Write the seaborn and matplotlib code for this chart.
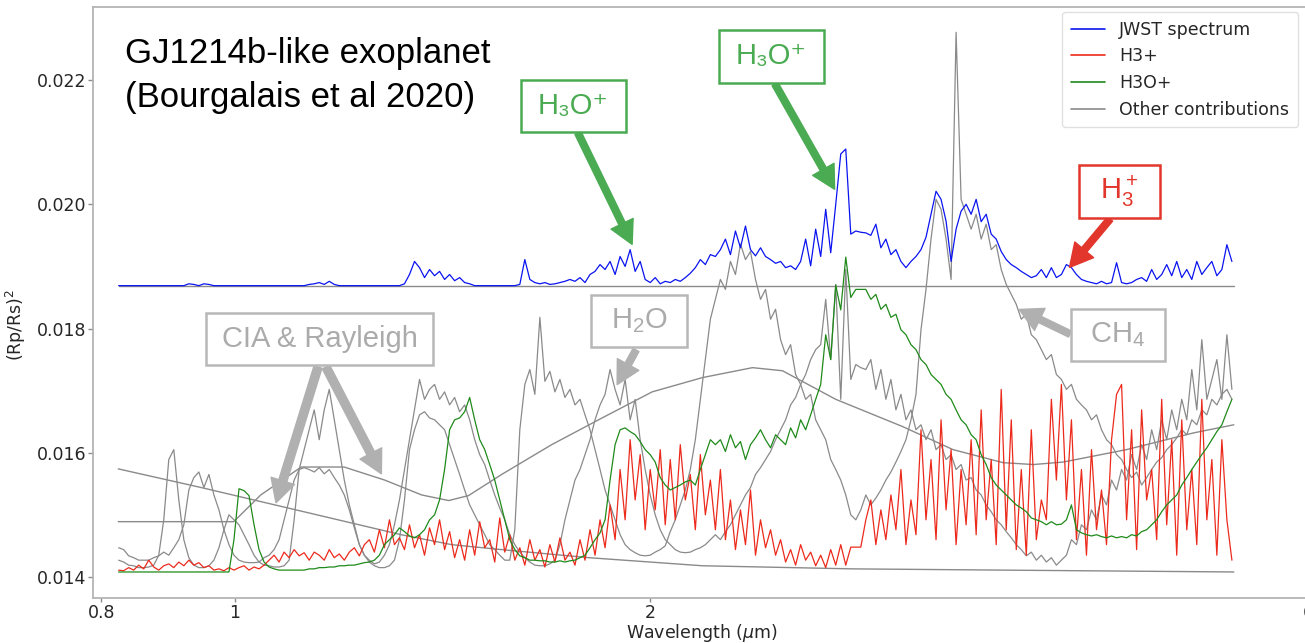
import numpy as np
import pandas as pd
import matplotlib
matplotlib.use("Agg")
import matplotlib.pyplot as plt
import seaborn as sns
from matplotlib.lines import Line2D
from matplotlib.patches import Rectangle
from matplotlib.ticker import FixedLocator, FixedFormatter, NullLocator

# ---------------------------------------------------------------------------
# Spectra: transit depth (Rp/Rs)^2 in ppm, sampled on a constant-resolution
# wavelength grid (micron).
# ---------------------------------------------------------------------------
WAVELENGTH_UM = np.geomspace(0.8235, 5.284, 223)

JWST_PPM = [
    18690, 18690, 18690, 18690, 18690, 18690, 18690, 18690, 18690, 18690,
    18690, 18690, 18690, 18690, 18720, 18710, 18690, 18720, 18710, 18690,
    18690, 18690, 18690, 18690, 18690, 18690, 18690, 18690, 18690, 18690,
    18690, 18690, 18690, 18690, 18690, 18690, 18690, 18690, 18710, 18720,
    18740, 18710, 18760, 18710, 18690, 18690, 18690, 18690, 18690, 18690,
    18690, 18690, 18690, 18690, 18690, 18690, 18690, 18720, 18870, 19080,
    18980, 18820, 18950, 18850, 18920, 18790, 18870, 18770, 18820, 18740,
    18720, 18690, 18690, 18690, 18690, 18690, 18690, 18690, 18690, 18690,
    18710, 19110, 18790, 18740, 18720, 18740, 18710, 18720, 18740, 18760,
    18790, 18760, 18820, 18740, 18870, 18920, 19030, 18950, 19080, 18870,
    19160, 19000, 19270, 18920, 19080, 18790, 18740, 18820, 18720, 18760,
    18740, 18790, 18760, 18820, 18890, 18980, 19110, 19030, 19190, 19160,
    19270, 19440, 19190, 19570, 19300, 19650, 19270, 19170, 19300, 19160,
    19110, 19050, 19080, 18980, 19010, 18950, 19080, 19440, 19010, 19600,
    19160, 19920, 19220, 20000, 20810, 20890, 19520, 19570, 19550, 19540,
    19500, 19680, 19300, 19440, 19190, 19270, 19080, 18980, 19080, 19160,
    19270, 19470, 19840, 20210, 20080, 19730, 19080, 19600, 19890, 20000,
    19840, 20080, 19720, 19840, 19520, 19440, 19240, 19110, 19030, 18980,
    18920, 18870, 18820, 18850, 18950, 18820, 18980, 18820, 18870, 19030,
    18980, 18870, 18790, 18760, 18740, 18720, 18760, 18720, 18740, 19060,
    18740, 18720, 18740, 18790, 18820, 18760, 18950, 18790, 18870, 19030,
    18850, 19080, 18820, 18950, 18790, 19080, 18870, 18980, 19080, 18850,
    18950, 19350, 19080,
]

H3P_PPM = [
    14110, 14100, 14150, 14110, 14190, 14130, 14270, 14160, 14110, 14180,
    14210, 14150, 14240, 14180, 14270, 14190, 14230, 14150, 14180, 14110,
    14130, 14100, 14150, 14110, 14150, 14180, 14110, 14160, 14130, 14190,
    14270, 14350, 14240, 14400, 14310, 14440, 14340, 14390, 14270, 14400,
    14350, 14270, 14440, 14310, 14370, 14270, 14400, 14470, 14340, 14520,
    14600, 14400, 14760, 14470, 14920, 14520, 14630, 14440, 14840, 14470,
    14680, 14350, 14790, 14520, 14920, 14440, 14730, 14310, 14600, 14270,
    14760, 14350, 14890, 14470, 14600, 14240, 14950, 14400, 14680, 14270,
    14470, 14190, 14600, 14270, 14440, 14160, 14520, 14240, 14630, 14270,
    14400, 14190, 14600, 14270, 14760, 14350, 14920, 14470, 15160, 14600,
    15730, 14920, 16210, 15240, 15970, 14760, 15730, 15080, 16050, 14840,
    15890, 14920, 16130, 15240, 15650, 14760, 15970, 15000, 15560, 14760,
    15730, 14600, 15240, 14440, 15080, 14520, 15400, 14350, 14920, 14470,
    14760, 14350, 14600, 14240, 14440, 14190, 14520, 14270, 14400, 14180,
    14350, 14150, 14440, 14190, 14520, 14190, 14480, 14480, 14480, 14920,
    15240, 14520, 15080, 14600, 15320, 14760, 15730, 14520, 15240, 14680,
    16370, 14920, 15890, 14600, 16530, 15080, 16050, 14520, 15730, 14840,
    16210, 14680, 16690, 14920, 15890, 14520, 17020, 14760, 16530, 14440,
    15730, 14350, 16370, 14600, 15240, 14920, 16860, 15560, 17100, 15240,
    16530, 14600, 15730, 14350, 16050, 14760, 15400, 14520, 16210, 16940,
    17100, 14920, 16370, 14440, 16690, 15240, 15730, 14600, 16860, 14840,
    16210, 14350, 16530, 14760, 15730, 14520, 16860, 14920, 15890, 14350,
    16210, 14920, 14270,
]

H3OP_PPM = [
    14080, 14080, 14080, 14080, 14080, 14080, 14080, 14080, 14080, 14080,
    14080, 14080, 14080, 14080, 14080, 14080, 14080, 14080, 14080, 14080,
    14080, 14080, 14080, 14600, 15420, 15390, 15310, 14840, 14440, 14240,
    14160, 14130, 14110, 14110, 14110, 14110, 14110, 14110, 14130, 14130,
    14150, 14150, 14160, 14160, 14180, 14180, 14190, 14190, 14210, 14230,
    14240, 14270, 14350, 14520, 14600, 14680, 14790, 14730, 14660, 14630,
    14680, 14760, 14920, 15000, 15240, 15730, 16370, 16530, 16560, 16660,
    16890, 16530, 16210, 16050, 15810, 15560, 15240, 14920, 14600, 14440,
    14340, 14310, 14270, 14270, 14260, 14260, 14240, 14240, 14260, 14240,
    14260, 14270, 14310, 14350, 14470, 14600, 14710, 14920, 15560, 16130,
    16370, 16400, 16340, 16290, 16180, 16050, 15970, 15850, 15600, 15480,
    15400, 15440, 15480, 15530, 15560, 15480, 15730, 15970, 16210, 16130,
    16210, 16020, 16290, 16080, 16180, 15890, 16130, 16240, 16370, 16210,
    16080, 16290, 16210, 16130, 16400, 16240, 16530, 16370, 16610, 16860,
    17100, 17900, 17500, 18700, 18300, 19150, 18500, 18630, 18630, 18630,
    18470, 18550, 18310, 18390, 18180, 18230, 17980, 17900, 17740, 17660,
    17500, 17420, 17260, 17180, 17100, 16940, 16860, 16690, 16530, 16450,
    16290, 16210, 15970, 15810, 15600, 15480, 15400, 15320, 15240, 15160,
    15110, 15050, 14950, 14920, 14890, 14840, 14890, 14840, 14850, 14920,
    15160, 14760, 14710, 14680, 14660, 14680, 14650, 14630, 14660, 14630,
    14650, 14630, 14680, 14660, 14730, 14760, 14840, 14920, 15050, 15160,
    15240, 15320, 15480, 15600, 15730, 15850, 15970, 16080, 16210, 16340,
    16450, 16660, 16860,
]

# Other molecular contributions (two line-by-line opacity sources)
OTHER_A_PPM = [
    14470, 14440, 14340, 14310, 14270, 14270, 14270, 14310, 14340, 14400,
    14350, 14470, 14600, 14840, 15400, 15600, 15690, 15440, 15650, 15320,
    15080, 14760, 14520, 14350, 14270, 14240, 14230, 14230, 14240, 14310,
    14350, 14440, 14600, 14920, 15240, 15560, 15730, 15760, 15730, 15690,
    15760, 15660, 15730, 15600, 15480, 15320, 15080, 14790, 14520, 14350,
    14270, 14210, 14240, 14350, 14520, 14840, 15240, 15730, 16210, 16690,
    17180, 16860, 17020, 17100, 16860, 16980, 16770, 16890, 16660, 16770,
    16530, 16210, 15970, 15810, 15560, 15320, 15110, 14920, 14680, 14520,
    14400, 14310, 14240, 14190, 14180, 14180, 14210, 14270, 14520, 14920,
    15240, 15560, 15730, 15970, 16210, 16530, 16770, 16940, 17340, 17020,
    16770, 17180, 16530, 16860, 16210, 15730, 15320, 15000, 14760, 14600,
    14520, 14440, 14400, 14390, 14400, 14440, 14470, 14520, 14600, 14680,
    14600, 14730, 14840, 15000, 15160, 15320, 15440, 15650, 15760, 15890,
    16020, 16210, 16370, 16530, 16770, 16890, 17100, 17260, 17500, 17660,
    17740, 18470, 17500, 18710, 16860, 18950, 17180, 17420, 17370, 17340,
    17500, 17020, 17340, 16860, 17180, 16690, 16940, 16530, 16690, 16370,
    16450, 16210, 16370, 16050, 16130, 15890, 15970, 15730, 15810, 15560,
    15600, 15400, 15320, 15160, 15050, 14920, 14840, 14730, 14630, 14520,
    14440, 14340, 14400, 14270, 14350, 14240, 14310, 14190, 14270, 14350,
    14600, 14520, 14840, 14760, 15080, 14920, 15320, 15160, 15560, 15400,
    15730, 15560, 15970, 15730, 16130, 15890, 16370, 16050, 16530, 16210,
    16690, 16370, 16860, 16530, 17340, 16690, 17820, 16860, 17180, 17500,
    16860, 17900, 17020,
]

OTHER_B_PPM = [
    14270, 14240, 14190, 14180, 14150, 14150, 14160, 14190, 14350, 14920,
    15890, 16050, 15240, 14600, 14310, 14190, 14150, 14150, 14180, 14270,
    14470, 14760, 15000, 14920, 14840, 14680, 14520, 14350, 14240, 14190,
    14180, 14160, 14160, 14180, 14270, 14920, 15730, 16050, 16370, 16690,
    16210, 16690, 17020, 16530, 16050, 15560, 15160, 14840, 14520, 14350,
    14240, 14180, 14150, 14150, 14180, 14270, 14600, 15240, 16050, 16370,
    16610, 16660, 16560, 16530, 16450, 16370, 16130, 15890, 15650, 15400,
    15160, 15000, 14840, 14680, 14520, 14440, 14350, 14270, 14270, 14760,
    16370, 17100, 17340, 16940, 18180, 17150, 17310, 16980, 17180, 16890,
    17020, 16770, 16860, 16610, 16370, 16050, 15730, 15400, 15160, 14920,
    14680, 14520, 14440, 14390, 14350, 14340, 14350, 14400, 14440, 14500,
    14730, 14920, 15160, 15400, 15730, 16210, 16860, 17500, 18150, 18470,
    18790, 18630, 19080, 18870, 19360, 19110, 19240, 18790, 18470, 18630,
    18150, 18310, 17820, 17580, 17740, 17260, 17100, 16860, 16940, 16530,
    16370, 16210, 15890, 15730, 15560, 15320, 15000, 14920, 15080, 15320,
    15160, 15270, 15400, 15560, 15690, 15850, 16020, 16210, 16530, 16940,
    17980, 18630, 19440, 20080, 19920, 19440, 18790, 22770, 20080, 19840,
    19600, 19840, 19440, 19680, 19270, 19350, 18950, 18710, 18550, 18390,
    18150, 18230, 17900, 17820, 17660, 17500, 17580, 17260, 17180, 17020,
    17100, 16860, 16770, 16690, 16530, 16610, 16370, 16210, 16130, 15970,
    15890, 15730, 15600, 15690, 15480, 15600, 15730, 15850, 15920, 16050,
    16130, 16240, 16370, 16290, 16530, 16450, 16690, 16610, 16860, 16770,
    16940, 17020, 16860,
]

# Continuum contributions
RAYLEIGH_UM = [0.823, 0.945, 1.117, 1.320, 1.436, 1.561, 1.806, 2.183, 2.805, 3.606, 5.301]
RAYLEIGH_PPM = [15740, 15440, 15060, 14680, 14520, 14440, 14310, 14180, 14130, 14110, 14080]

CIA_UM = [0.823, 0.998, 1.044, 1.117, 1.200, 1.284, 1.366, 1.429, 1.477, 1.561,
          1.697, 1.846, 2.007, 2.183, 2.373, 2.495, 2.727, 3.050, 3.317, 3.606,
          3.793, 3.987, 4.431, 4.958, 5.301]
CIA_PPM = [14890, 14890, 15320, 15770, 15770, 15560, 15320, 15230, 15310, 15650,
           16130, 16560, 16980, 17210, 17370, 17320, 16860, 16420, 16050, 15840,
           15810, 15850, 16050, 16320, 16450]

FLAT_UM = [0.8235, 5.301]
FLAT_PPM = [18680, 18680]

LEGEND_LABELS = ["JWST spectrum", "H3+", "H3O+", "Other contributions"]
X_TICKS = [0.8, 1, 2, 6]
X_TICK_LABELS = ["0.8", "1", "2", "6"]
Y_TICKS = [0.014, 0.016, 0.018, 0.020, 0.022]

for arr in (JWST_PPM, H3P_PPM, H3OP_PPM, OTHER_A_PPM, OTHER_B_PPM):
    assert len(arr) == len(WAVELENGTH_UM), len(arr)

# ---------------------------------------------------------------------------
sns.set_theme(style="ticks")
plt.rcParams["font.family"] = ["DejaVu Sans"]

W, H = 1305, 643
fig = plt.figure(figsize=(W / 100, H / 100), dpi=100)
ax = fig.add_axes([93 / W, 45 / H, (1310 - 93) / W, (636 - 45) / H])

C_BLUE = "#0a14f0"
C_RED = "#ec2a1c"
C_GREEN = "#1f8a1a"
C_GREY = "#8a8a8a"


def depth(ppm):
    return np.asarray(ppm, dtype=float) * 1e-6


def draw(x, ppm, color, lw, z):
    df = pd.DataFrame({"wl": x, "depth": depth(ppm)})
    sns.lineplot(data=df, x="wl", y="depth", ax=ax, color=color, lw=lw,
                 estimator=None, sort=False, zorder=z)


draw(FLAT_UM, FLAT_PPM, C_GREY, 1.0, 1)
draw(RAYLEIGH_UM, RAYLEIGH_PPM, C_GREY, 1.0, 1)
draw(CIA_UM, CIA_PPM, C_GREY, 1.0, 1)
draw(WAVELENGTH_UM, OTHER_A_PPM, C_GREY, 0.9, 1)
draw(WAVELENGTH_UM, OTHER_B_PPM, C_GREY, 0.9, 1)
draw(WAVELENGTH_UM, H3P_PPM, C_RED, 0.9, 2)
draw(WAVELENGTH_UM, H3OP_PPM, C_GREEN, 0.9, 3)
draw(WAVELENGTH_UM, JWST_PPM, C_BLUE, 0.9, 4)

ax.set_xscale("log")
ax.set_xlim(0.789, 6.02)
ax.set_ylim(0.013661, 0.023177)
ax.xaxis.set_major_locator(FixedLocator(X_TICKS))
ax.xaxis.set_major_formatter(FixedFormatter(X_TICK_LABELS))
ax.xaxis.set_minor_locator(NullLocator())
ax.yaxis.set_major_locator(FixedLocator(Y_TICKS))
ax.yaxis.set_major_formatter(FixedFormatter([f"{t:.3f}" for t in Y_TICKS]))

for sp in ax.spines.values():
    sp.set_color("#b4b4b4")
    sp.set_linewidth(1.3)
ax.tick_params(axis="both", which="major", width=1, color="#8c8c8c",
               labelsize=12.5, labelcolor="#262626")
ax.tick_params(axis="x", length=3, pad=1.0)
ax.tick_params(axis="y", length=3.5, pad=1.2)

ax.set_xlabel("Wavelength ($\\mu$m)", fontsize=12.5, color="#262626", labelpad=0)
ax.set_ylabel("(Rp/Rs)$^2$", fontsize=12.5, color="#262626")
ax.yaxis.set_label_coords(-0.053, 0.462)

handles = [Line2D([], [], color=c, lw=1.2) for c in (C_BLUE, C_RED, C_GREEN, C_GREY)]
ax.legend(handles, LEGEND_LABELS, loc="upper right",
          bbox_to_anchor=(1298 / W, 1 - 12 / H), bbox_transform=fig.transFigure,
          borderaxespad=0, fontsize=12.5, frameon=True, framealpha=0.9,
          edgecolor="#dddddd", fancybox=True, handlelength=2.0,
          labelspacing=0.5, borderpad=0.5)

# Title block
SANS = ["Liberation Sans", "DejaVu Sans"]
fig.text(125 / W, 1 - 63 / H, "GJ1214b-like exoplanet", fontsize=25,
         family=SANS, color="black", ha="left", va="baseline")
fig.text(125 / W, 1 - 107 / H, "(Bourgalais et al 2020)", fontsize=25,
         family=SANS, color="black", ha="left", va="baseline")

# Labelled boxes with arrows pointing at spectral features
G_GREEN = "#4aab52"
G_RED = "#e2362c"
G_GREY = "#ababab"


def fxy(x, y):
    return (x / W, 1 - y / H)


def label_box(x0, y0, x1, y1, text, color, text_color, size=21):
    fig.add_artist(Rectangle(fxy(x0, y1), (x1 - x0) / W, (y1 - y0) / H,
                             transform=fig.transFigure, facecolor="white",
                             edgecolor=color, lw=1.8, zorder=6))
    fig.text((x0 + x1) / 2 / W, 1 - (y0 + y1) / 2 / H, text, fontsize=size,
             family=SANS, color=text_color, ha="center", va="center", zorder=7)


def arrow(start_px, tip_data, color, tail=0.22):
    ax.annotate("", xy=tip_data, xycoords="data", xytext=fxy(*start_px),
                textcoords="figure fraction", zorder=8,
                arrowprops=dict(arrowstyle=f"simple,head_length=0.75,head_width=0.8,tail_width={tail}",
                                color=color, mutation_scale=22, shrinkA=0, shrinkB=0))


label_box(521, 80, 626, 132, "H₃O⁺", G_GREEN, G_GREEN)
arrow((578, 133), (1.941, 0.019355), G_GREEN)

label_box(719, 30, 824, 83, "H₃O⁺", G_GREEN, G_GREEN)
arrow((775, 84), (2.722, 0.020242), G_GREEN)

label_box(1079, 165, 1160, 218, "$\\mathregular{H_3^+}$", G_RED, G_RED)
arrow((1110, 219), (4.029, 0.018984), G_RED)

label_box(206, 313, 433, 365, "CIA & Rayleigh", "#b8b8b8", G_GREY)
arrow((318, 367), (1.071, 0.015194), "#b0b0b0", tail=0.27)
arrow((326, 367), (1.277, 0.015661), "#b0b0b0", tail=0.27)

label_box(591, 295, 687, 347, "$\\mathregular{H_2O}$", "#b8b8b8", G_GREY)
arrow((636, 350), (1.893, 0.017097), "#b0b0b0")

label_box(1071, 309, 1165, 361, "$\\mathregular{CH_4}$", "#b8b8b8", G_GREY)
arrow((1070, 334), (3.704, 0.018307), "#b0b0b0")

fig.savefig("out.png", dpi=100)
